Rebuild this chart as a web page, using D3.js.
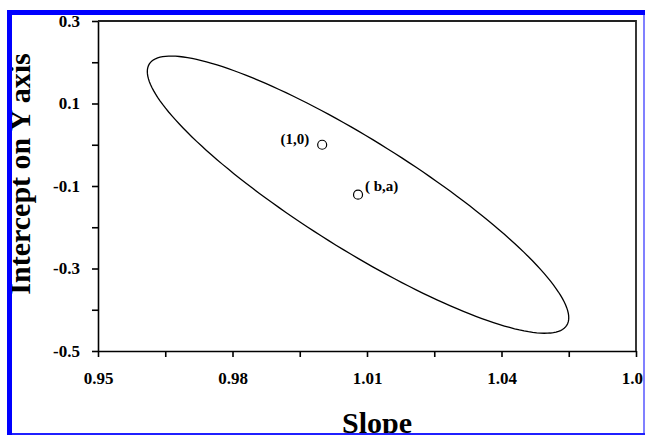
<!DOCTYPE html>
<html>
<head>
<meta charset="utf-8">
<script src="https://cdn.jsdelivr.net/npm/d3@7"></script>
<style>
  body { margin: 0; background: #fff; }
  text { font-family: "Liberation Serif", "Times New Roman", serif; font-weight: bold; }
</style>
</head>
<body>
<svg id="chart" width="645" height="435"></svg>
<script>
// tick values and labels (every other tick is labelled)
const xTicks = [0.95, 0.965, 0.98, 0.995, 1.01, 1.025, 1.04, 1.055, 1.07];
const xTickLabels = ["0.95", "", "0.98", "", "1.01", "", "1.04", "", "1.07"];
const yTicks = [-0.5, -0.4, -0.3, -0.2, -0.1, 0, 0.1, 0.2, 0.3];
const yTickLabels = ["-0.5", "", "-0.3", "", "-0.1", "", "0.1", "", "0.3"];

// marked points
const pointNames = ["(1,0)", "( b,a)"];
const pointSlope = [1.0, 1.008];
const pointIntercept = [0.0, -0.121];

// joint confidence ellipse around (b,a)
const ellipseCenter = [1.008, -0.121];
const ellipseHalfSlope = 0.047;      // half extent along slope
const ellipseHalfIntercept = 0.336;  // half extent along intercept
const ellipseCorr = -0.888;

const svg = d3.select("#chart");
const plot = {left: 98, right: 636, top: 21, bottom: 351};

const x = d3.scaleLinear().domain([0.95, 1.07]).range([plot.left, plot.right]);
const y = d3.scaleLinear().domain([-0.5, 0.3]).range([plot.bottom, plot.top]);

// axes
const xAxis = svg.append("g")
    .attr("transform", `translate(0,${plot.bottom})`)
    .call(d3.axisBottom(x).tickValues(xTicks).tickSize(6).tickSizeOuter(0).tickPadding(15)
        .tickFormat((d, i) => xTickLabels[i]));
const yAxis = svg.append("g")
    .attr("transform", `translate(${plot.left},0)`)
    .call(d3.axisLeft(y).tickValues(yTicks).tickSize(6).tickSizeOuter(0).tickPadding(12)
        .tickFormat((d, i) => yTickLabels[i]));

[xAxis, yAxis].forEach(g => {
    g.selectAll("text").attr("font-size", "17px").attr("fill", "#000")
        .style("font-family", "'Liberation Serif', serif");
    g.selectAll("line").attr("stroke", "#000").attr("stroke-width", 1.6);
    g.select(".domain").attr("stroke", "#000").attr("stroke-width", 1.6);
});

// box top and right
svg.append("path")
    .attr("d", `M${plot.left},${plot.top}H${plot.right}V${plot.bottom}`)
    .attr("fill", "none")
    .attr("stroke", "#222")
    .attr("stroke-width", 1.8);

// ellipse
const k = Math.sqrt(1 - ellipseCorr * ellipseCorr);
const ellipsePts = d3.range(0, 361, 2).map(deg => {
    const t = deg * Math.PI / 180;
    return [
        ellipseCenter[0] + ellipseHalfSlope * Math.cos(t),
        ellipseCenter[1] + ellipseHalfIntercept * (ellipseCorr * Math.cos(t) + k * Math.sin(t))
    ];
});
svg.append("path")
    .datum(ellipsePts)
    .attr("d", d3.line().x(d => x(d[0])).y(d => y(d[1])).curve(d3.curveLinearClosed))
    .attr("fill", "none")
    .attr("stroke", "#000")
    .attr("stroke-width", 1.3);

// points and labels
pointNames.forEach((name, i) => {
    const px = x(pointSlope[i]), py = y(pointIntercept[i]);
    svg.append("circle")
        .attr("cx", px).attr("cy", py).attr("r", 4.5)
        .attr("fill", "#fff").attr("stroke", "#000").attr("stroke-width", 1.2);
    svg.append("text")
        .attr("x", i === 0 ? px - 13 : px + 7)
        .attr("y", i === 0 ? py - 1 : py - 4)
        .attr("text-anchor", i === 0 ? "end" : "start")
        .attr("font-size", "15px")
        .text(name);
});

// axis titles
svg.append("text")
    .attr("x", 377)
    .attr("y", 433)
    .attr("text-anchor", "middle")
    .attr("font-size", "30px")
    .text("Slope");
svg.append("text")
    .attr("transform", "rotate(-90)")
    .attr("x", -174)
    .attr("y", 30)
    .attr("text-anchor", "middle")
    .attr("font-size", "30px")
    .text("Intercept on Y axis");

// blue page frame
svg.append("rect").attr("x", 7).attr("y", 10).attr("width", 638).attr("height", 5).attr("fill", "#0000ff");
svg.append("rect").attr("x", 7).attr("y", 10).attr("width", 5).attr("height", 425).attr("fill", "#0000ff");
svg.append("rect").attr("x", 643).attr("y", 15).attr("width", 2).attr("height", 420).attr("fill", "#8080ff");
svg.append("rect").attr("x", 12).attr("y", 433).attr("width", 633).attr("height", 2).attr("fill", "#2020ff");
</script>
</body>
</html>
